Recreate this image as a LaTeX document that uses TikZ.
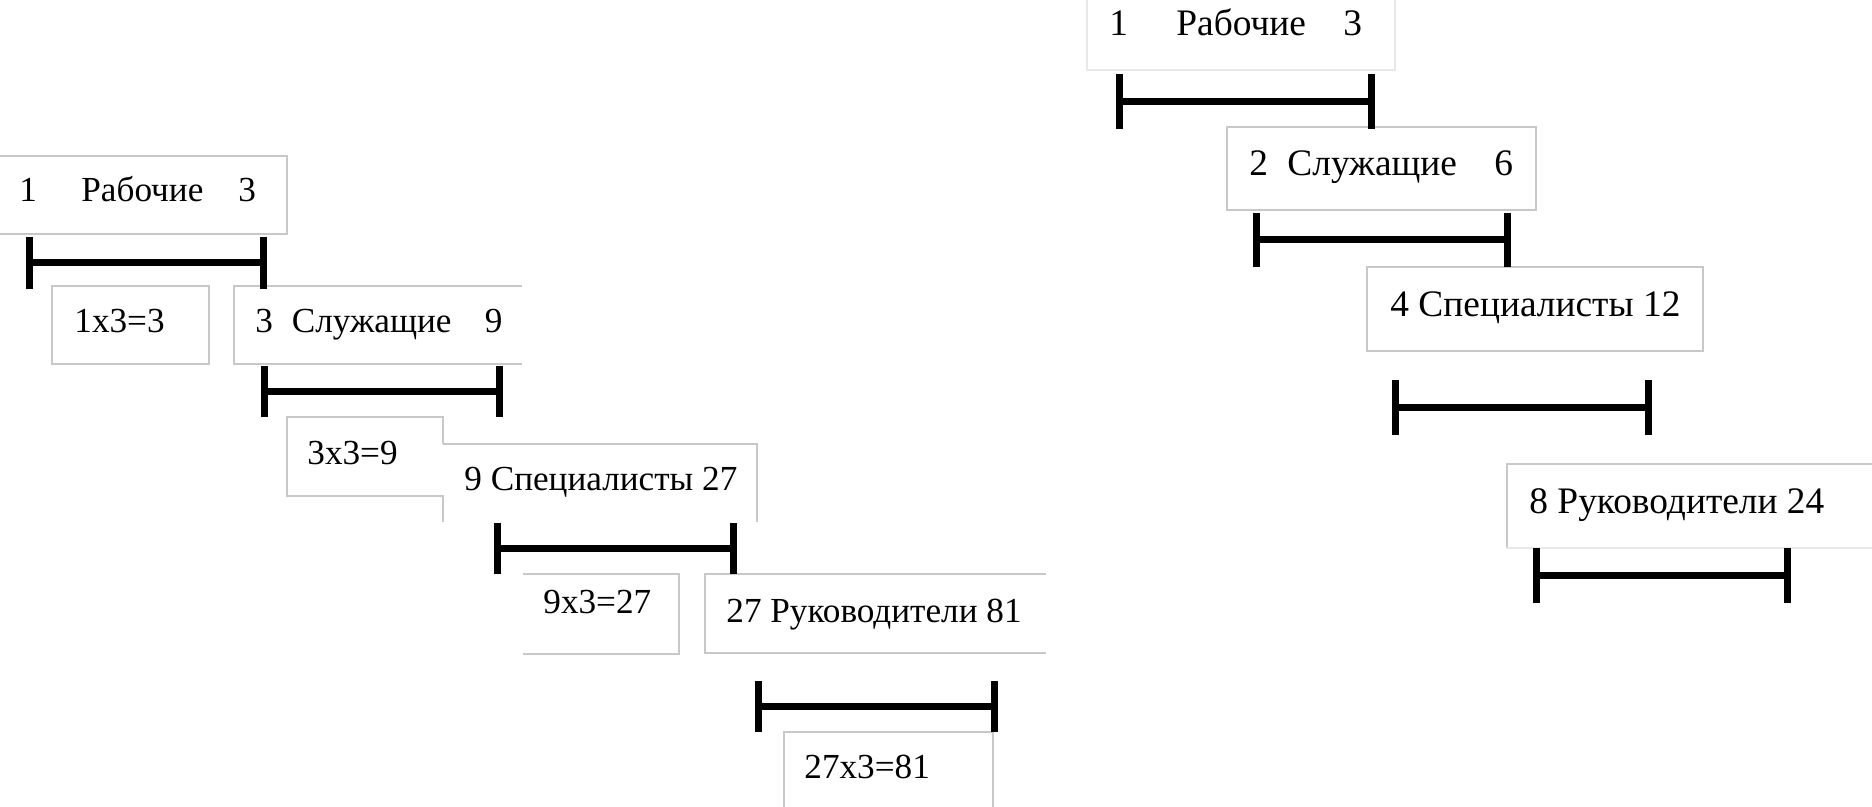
\documentclass[tikz,border=0pt]{standalone}
\usepackage{fontspec}
\setmainfont{Liberation Serif}
\definecolor{edge}{RGB}{200,200,200}
\definecolor{faint}{RGB}{232,232,232}
\tikzset{
  txt/.style={anchor=base west, inner sep=0pt, font=\fontsize{17.6}{20}\selectfont},
  rtxt/.style={anchor=base west, inner sep=0pt, font=\fontsize{18.7}{22}\selectfont},
  boxline/.style={draw=edge, line width=0.55pt},
  faintline/.style={draw=faint, line width=0.55pt},
  barline/.style={draw=black, line width=3.5pt, line cap=butt},
}
% \tbar{x1}{x2}{ytop}{ybot}: a bracket bar |----|
\newcommand\tbar[4]{%
  \draw[barline] (#1,#3) -- (#1,#4);
  \draw[barline] (#2,#3) -- (#2,#4);
  \draw[barline] (#1,{(#3+#4)/2}) -- (#2,{(#3+#4)/2});
}
\begin{document}
\begin{tikzpicture}[x=0.5pt,y=-0.5pt]
\useasboundingbox[fill=white] (0,0) rectangle (1872,807);

% ---------------- left column: box outlines ----------------
% B1 Рабочие
\draw[boxline] (0,156) -- (287,156) -- (287,234) -- (0,234);
% B2 1x3=3
\draw[boxline] (52,286) rectangle (209,364);
% B3 Служащие
\draw[boxline] (522,286) -- (234,286) -- (234,364) -- (522,364);
% B4 3x3=9
\draw[boxline] (443,444) -- (443,417) -- (287,417) -- (287,496) -- (443,496) -- (443,522);
% B5 Специалисты
\draw[boxline] (443,444) -- (757,444) -- (757,522);
% B6 9x3=27
\draw[boxline] (523,574) -- (679,574) -- (679,654) -- (523,654);
% B7 Руководители
\draw[boxline] (1046,574) -- (705,574) -- (705,653) -- (1046,653);
% B8 27x3=81
\draw[boxline] (784,807) -- (784,732) -- (993,732) -- (993,807);

% ---------------- right column: box outlines ----------------
\draw[faintline] (1087,0) -- (1087,70) -- (1395,70) -- (1395,0);
\draw[boxline] (1227,127) rectangle (1536,210);
\draw[boxline] (1367,267) rectangle (1703,351);
\draw[boxline] (1872,464) -- (1507,464) -- (1507,548);
\draw[faintline] (1507,548) -- (1872,548);

% ---------------- texts ----------------
\node[txt] (l1) at (19,202) {\makebox[31pt][l]{1}\makebox[78.5pt][l]{Рабочие}3};
\node[txt] (l1m) at (74,333) {1x3=3};
\node[txt] (l2) at (255,333) {\makebox[18.25pt][l]{3}\makebox[96.5pt][l]{Служащие}9};
\node[txt] (l2m) at (307,464) {3x3=9};
\node[txt] (l3) at (464,490) {9 Специалисты 27};
\node[txt] (l3m) at (543,613) {9x3=27};
\node[txt] (l4) at (726,622) {27 Руководители 81};
\node[txt] (l4m) at (804,778) {27x3=81};

\node[rtxt] (r1) at (1109,36) {\makebox[33.5pt][l]{1}\makebox[83.5pt][l]{Рабочие}3};
\node[rtxt] (r2) at (1249,176) {\makebox[19pt][l]{2}\makebox[103.5pt][l]{Служащие}6};
\node[rtxt] (r3) at (1390,317) {4 Специалисты 12};
\node[rtxt] (r4) at (1529,513) {8 Руководители 24};

% ---------------- bars ----------------
\tbar{29}{263}{237}{289}
\tbar{264}{499}{366}{417}
\tbar{497}{733}{523}{574}
\tbar{758}{994}{681}{732}

\tbar{1119}{1371}{74}{129}
\tbar{1256}{1507}{213}{267}
\tbar{1395}{1648}{380}{435}
\tbar{1536}{1787}{548}{603}
\end{tikzpicture}
\end{document}
